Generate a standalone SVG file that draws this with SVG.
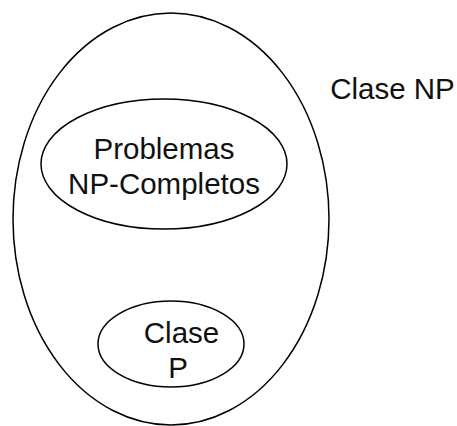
<svg xmlns="http://www.w3.org/2000/svg" width="457" height="426" viewBox="0 0 457 426">
  <style>
    .set { fill: none; stroke: #000; stroke-width: 1.5; }
    .label { font-family: "Liberation Sans", Arial, sans-serif; font-size: 29.5px; fill: #111; text-anchor: middle; }
  </style>
  <rect width="457" height="426" fill="#fff"/>
  <g id="clase-np">
    <ellipse class="set" cx="171" cy="219" rx="158" ry="206"/>
    <text class="label" x="392.5" y="99">Clase NP</text>
  </g>
  <g id="np-completos">
    <ellipse class="set" cx="164" cy="164" rx="123" ry="65"/>
    <text class="label" x="164" y="159">Problemas</text>
    <text class="label" x="164" y="194">NP-Completos</text>
  </g>
  <g id="clase-p">
    <ellipse class="set" cx="171" cy="344" rx="73" ry="43"/>
    <text class="label" x="181.5" y="343">Clase</text>
    <text class="label" x="178" y="378">P</text>
  </g>
  <g id="connectors"/>
</svg>
